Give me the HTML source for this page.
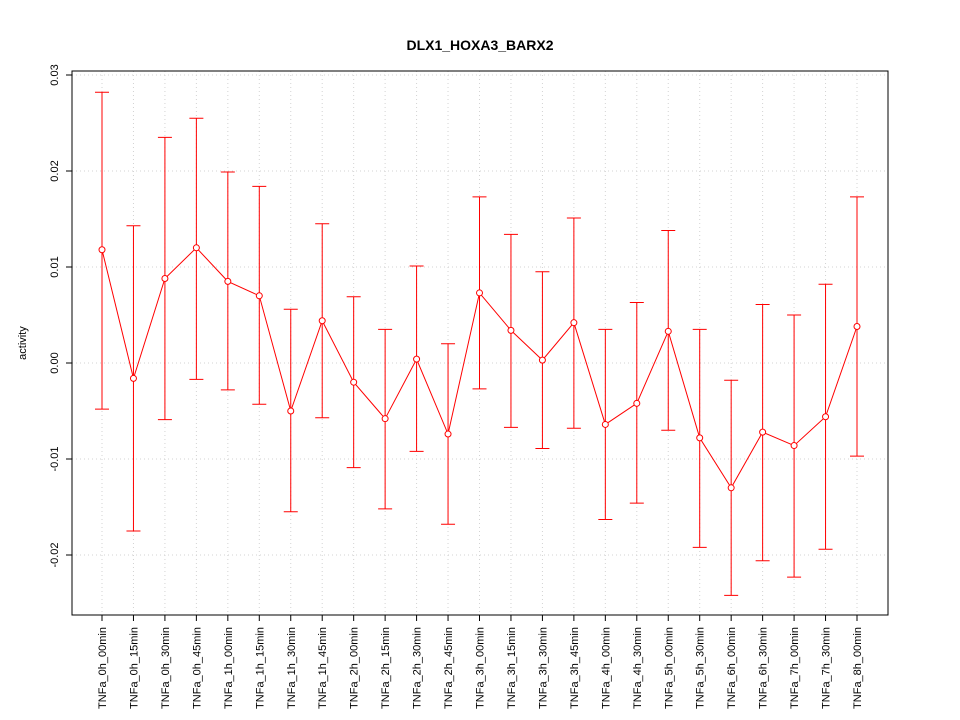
<!DOCTYPE html>
<html><head><meta charset="utf-8"><style>
body{margin:0;background:#fff;}
svg{display:block;font-family:"Liberation Sans",sans-serif;}
</style></head><body>
<svg id="chart" width="960" height="720">
<text x="480" y="50" text-anchor="middle" font-size="14" font-weight="bold">DLX1_HOXA3_BARX2</text>
<text transform="translate(26,343) rotate(-90)" text-anchor="middle" font-size="11">activity</text>
<g id="grid"></g><g id="axes"></g><g id="marks"></g>
</svg>
<script>
const categories=["TNFa_0h_00min","TNFa_0h_15min","TNFa_0h_30min","TNFa_0h_45min","TNFa_1h_00min","TNFa_1h_15min","TNFa_1h_30min","TNFa_1h_45min","TNFa_2h_00min","TNFa_2h_15min","TNFa_2h_30min","TNFa_2h_45min","TNFa_3h_00min","TNFa_3h_15min","TNFa_3h_30min","TNFa_3h_45min","TNFa_4h_00min","TNFa_4h_30min","TNFa_5h_00min","TNFa_5h_30min","TNFa_6h_00min","TNFa_6h_30min","TNFa_7h_00min","TNFa_7h_30min","TNFa_8h_00min"];
const values=[0.0118,-0.0016,0.0088,0.0120,0.0085,0.0070,-0.0050,0.0044,-0.0020,-0.0058,0.0004,-0.0074,0.0073,0.0034,0.0003,0.0042,-0.0064,-0.0042,0.0033,-0.0078,-0.0130,-0.0072,-0.0086,-0.0056,0.0038];
const upper=[0.0282,0.0143,0.0235,0.0255,0.0199,0.0184,0.0056,0.0145,0.0069,0.0035,0.0101,0.0020,0.0173,0.0134,0.0095,0.0151,0.0035,0.0063,0.0138,0.0035,-0.0018,0.0061,0.0050,0.0082,0.0173];
const lower=[-0.0048,-0.0175,-0.0059,-0.0017,-0.0028,-0.0043,-0.0155,-0.0057,-0.0109,-0.0152,-0.0092,-0.0168,-0.0027,-0.0067,-0.0089,-0.0068,-0.0163,-0.0146,-0.0070,-0.0192,-0.0242,-0.0206,-0.0223,-0.0194,-0.0097];
const yTicks=[-0.02,-0.01,0,0.01,0.02,0.03];
const yTickLabels=["-0.02","-0.01","0.00","0.01","0.02","0.03"];
const NS="http://www.w3.org/2000/svg";
const L=72,R=888,T=71,B=615;
const x=i=>102+i*(857-102)/(categories.length-1);
const y=v=>363-v*9600;
function mk(parent,tag,attrs){const e=document.createElementNS(NS,tag);for(const k in attrs)e.setAttribute(k,attrs[k]);document.getElementById(parent).appendChild(e);return e;}
categories.forEach((c,i)=>{
 const g=mk('grid','line',{x1:x(i),x2:x(i),y1:T,y2:B,stroke:'#d3d3d3','stroke-dasharray':'1,3'});
 
 
});
yTicks.forEach((v,i)=>{
 const g=mk('grid','line',{x1:L,x2:R,y1:y(v),y2:y(v),stroke:'#d3d3d3','stroke-dasharray':'1,3'});
 
 
 const t=mk('axes','line',{x1:L-6,x2:L,y1:y(v),y2:y(v),stroke:'#000'});
 
 
 const tx=mk('axes','text',{transform:`translate(${L-14},${y(v)}) rotate(-90)`,'text-anchor':'middle','font-size':11});
 tx.textContent=yTickLabels[i];
 
 
});
const f=mk('axes','rect',{x:L,y:T,width:R-L,height:B-T,fill:'none',stroke:'#000'});


categories.forEach((c,i)=>{
 const t=mk('axes','line',{x1:x(i),x2:x(i),y1:B,y2:B+6,stroke:'#000'});
 
 
 const tx=mk('axes','text',{transform:`translate(${x(i)+4},${B+12}) rotate(-90)`,'text-anchor':'end','font-size':11});
 tx.textContent=c;
 
 
});
categories.forEach((c,i)=>{
 const e=mk('marks','path',{d:`M${x(i)-7},${y(upper[i])}H${x(i)+7}M${x(i)},${y(upper[i])}V${y(lower[i])}M${x(i)-7},${y(lower[i])}H${x(i)+7}`,stroke:'#ff0000',fill:'none'});
 
 
});
const ln=mk('marks','polyline',{points:values.map((v,i)=>x(i)+','+y(v)).join(' '),fill:'none',stroke:'#ff0000'});


values.forEach((v,i)=>{
 const p=mk('marks','circle',{cx:x(i),cy:y(v),r:3,fill:'#fff',stroke:'#ff0000'});
 
 
});
</script>
</body></html>
